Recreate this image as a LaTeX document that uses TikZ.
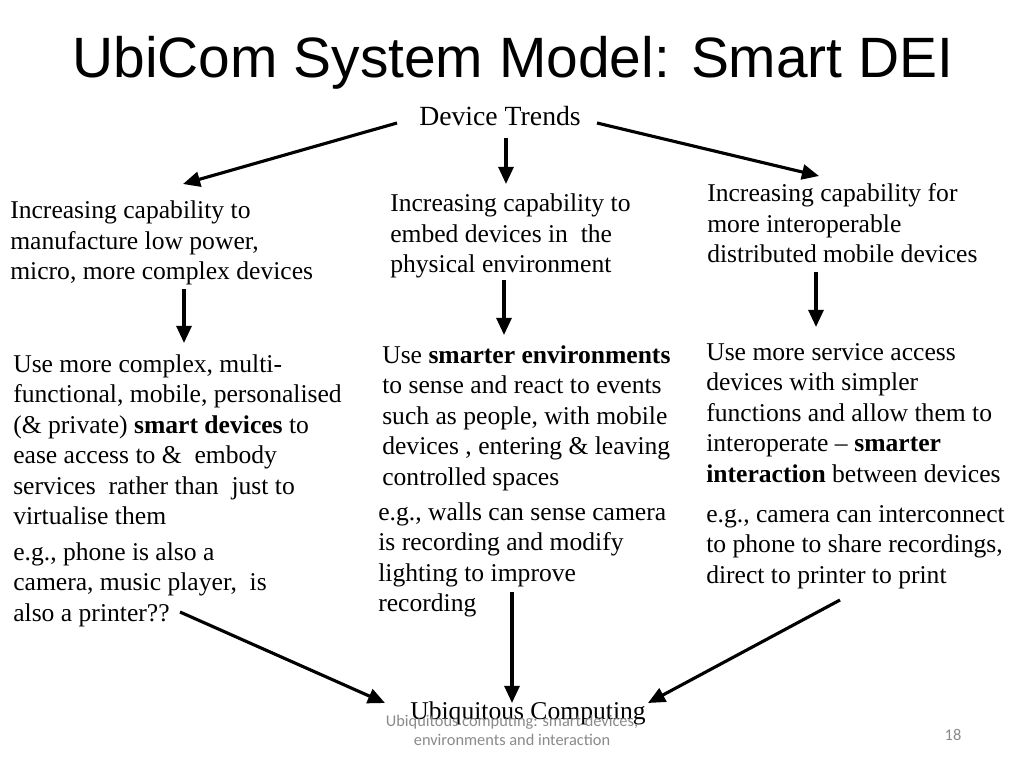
\documentclass[tikz,border=0pt]{standalone}
\usepackage{fontspec}
\setmainfont{Liberation Serif}
\newfontfamily\titlefont{Liberation Sans}
\newfontfamily\footfont{Carlito}
\usetikzlibrary{arrows.meta}
\definecolor{footgray}{HTML}{8A8A8A}
\newcommand\fst{\rule{0pt}{14pt}}
\begin{document}
\begin{tikzpicture}[x=0.703125pt,y=-0.703125pt,
  txt/.style={font=\fontsize{18}{21.45}\selectfont, align=left, inner sep=0pt, anchor=north west, yshift=14pt},
  arr/.style={line width=2.2pt, -{Triangle[length=12pt,width=10.5pt]}},
  foot/.style={font=\footfont\fontsize{11.5}{12.9}\selectfont, text=footgray, inner sep=0pt}]
\useasboundingbox (0,0) rectangle (1024,768);
\fill[white] (0,0) rectangle (1024,768);

\node[font=\titlefont\fontsize{40}{48}\selectfont, anchor=base, inner sep=0pt] (title) at (513,77.5) {UbiCom System Model: Smart DEI};
\node[font=\fontsize{19.5}{23}\selectfont, anchor=base, inner sep=0pt] (trends) at (500,126) {Device Trends};

% column 1
\node[txt] (l1) at (10,218.5) {\fst Increasing capability to\\manufacture low power,\\micro, more complex devices};
\node[txt] (l2) at (13,372) {\fst Use more complex, multi-\\functional, mobile, personalised\\(\& private) \textbf{smart devices} to\\ease access to \&\ \ embody\\services\ \ rather than\ \ just to\\virtualise them};
\node[txt] (l3) at (13,560) {\fst e.g., phone is also a\\camera, music player,\ \ is\\also a printer??};

% column 2
\node[txt] (m1) at (390,211.5) {\fst Increasing capability to\\embed devices in\ \ the\\physical environment};
\node[txt] (m2) at (382,363) {\fst Use \textbf{smarter environments}\\to sense and react to events\\such as people, with mobile\\devices , entering \& leaving\\controlled spaces};
\node[txt] (m3) at (378,520) {\fst e.g., walls can sense camera\\is recording and modify\\lighting to improve\\recording};

% column 3
\node[txt] (r1) at (707,201.5) {\fst Increasing capability for\\more interoperable\\distributed mobile devices};
\node[txt] (r2) at (706,360) {\fst Use more service access\\devices with simpler\\functions and allow them to\\interoperate -- \textbf{smarter}\\\textbf{interaction} between devices};
\node[txt] (r3) at (706,522) {\fst e.g., camera can interconnect\\to phone to share recordings,\\direct to printer to print};

\node[font=\fontsize{18}{21.45}\selectfont, anchor=base, inner sep=0pt] (ubi) at (528,719.5) {Ubiquitous Computing};

% footer
\node[foot, anchor=base] (f1) at (512,726.7) {Ubiquitous computing: smart devices,};
\node[foot, anchor=base] (f2) at (512,745) {environments and interaction};
\node[foot, anchor=base] (pg) at (953,740) {18};

% arrow end points
\coordinate (a1s) at (397,123); \coordinate (a1e) at (183,184);
\coordinate (a2s) at (506,138); \coordinate (a2e) at (506,184);
\coordinate (a3s) at (597,123); \coordinate (a3e) at (819,176);
\coordinate (b1s) at (184,289); \coordinate (b1e) at (184,343);
\coordinate (b2s) at (504,280); \coordinate (b2e) at (504,335);
\coordinate (b3s) at (816,272); \coordinate (b3e) at (816,327);
\coordinate (c1s) at (180,612); \coordinate (c1e) at (385,703);
\coordinate (c2s) at (512,592); \coordinate (c2e) at (512,703);
\coordinate (c3s) at (840,600); \coordinate (c3e) at (648,703);

\draw[arr] (a1s) -- (a1e);
\draw[arr] (a2s) -- (a2e);
\draw[arr] (a3s) -- (a3e);
\draw[arr] (b1s) -- (b1e);
\draw[arr] (b2s) -- (b2e);
\draw[arr] (b3s) -- (b3e);
\draw[arr] (c1s) -- (c1e);
\draw[arr] (c2s) -- (c2e);
\draw[arr] (c3s) -- (c3e);
\end{tikzpicture}
\end{document}
